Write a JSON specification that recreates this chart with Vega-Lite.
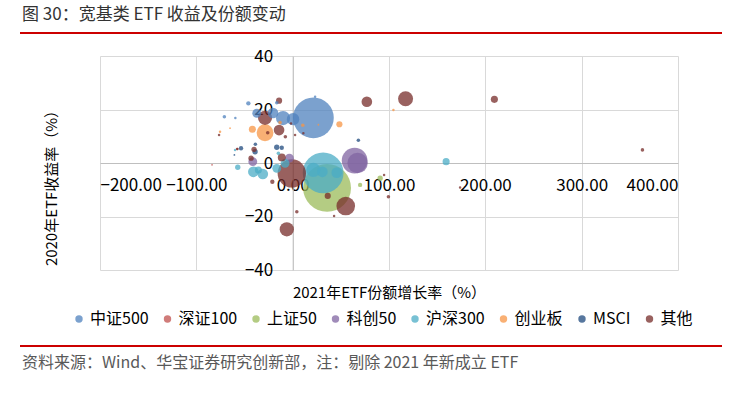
{
  "$schema": "https://vega.github.io/schema/vega-lite/v6.json",
  "width": 578,
  "height": 214,
  "autosize": "none",
  "padding": {"left": 100, "top": 56, "right": 51, "bottom": 125},
  "background": "white",
  "config": {
    "view": {"stroke": null},
    "font": "Noto Sans CJK SC",
    "axis": {"labelFont": "Noto Sans CJK SC", "titleFont": "Noto Sans CJK SC", "labelColor": "#000", "titleColor": "#000"}
  },
  "title": {
    "text": "图 30：宽基类 ETF 收益及份额变动",
    "anchor": "start",
    "frame": "group",
    "orient": "top",
    "dx": -78,
    "offset": 8,
    "fontSize": 17,
    "fontWeight": "normal",
    "font": "Noto Sans CJK SC",
    "color": "#333333"
  },
  "datasets": {
    "etf": [
      {"类型": "中证500", "份额增长率": 21.5, "收益率": 16.9, "规模": 529},
      {"类型": "中证500", "份额增长率": -10.0, "收益率": 16.8, "规模": 64},
      {"类型": "中证500", "份额增长率": 0.4, "收益率": 16.4, "规模": 49},
      {"类型": "中证500", "份额增长率": -20.4, "收益率": 18.7, "规模": 36},
      {"类型": "中证500", "份额增长率": -37.3, "收益率": 18.6, "规模": 25},
      {"类型": "中证500", "份额增长率": -46.0, "收益率": 22.3, "规模": 6},
      {"类型": "中证500", "份额增长率": -70.9, "收益率": 17.3, "规模": 4},
      {"类型": "中证500", "份额增长率": -59.5, "收益率": 16.8, "规模": 2},
      {"类型": "中证500", "份额增长率": 23.3, "收益率": 24.8, "规模": 2},
      {"类型": "中证500", "份额增长率": -16.5, "收益率": 22.5, "规模": 4},
      {"类型": "深证100", "份额增长率": -57.7, "收益率": 5.2, "规模": 2},
      {"类型": "深证100", "份额增长率": -83.7, "收益率": -0.7, "规模": 1},
      {"类型": "上证50", "份额增长率": 35.7, "收益率": -9.3, "规模": 729},
      {"类型": "上证50", "份额增长率": 90.8, "收益率": -5.7, "规模": 9},
      {"类型": "上证50", "份额增长率": 70.0, "收益率": -8.2, "规模": 6},
      {"类型": "科创50", "份额增长率": 64.3, "收益率": 0.9, "规模": 210},
      {"类型": "科创50", "份额增长率": 67.4, "收益率": 0.0, "规模": 132},
      {"类型": "科创50", "份额增长率": -41.4, "收益率": 0.5, "规模": 25},
      {"类型": "科创50", "份额增长率": -3.4, "收益率": 1.8, "规模": 25},
      {"类型": "沪深300", "份额增长率": 31.6, "收益率": -3.7, "规模": 529},
      {"类型": "沪深300", "份额增长率": 159.3, "收益率": 0.5, "规模": 16},
      {"类型": "沪深300", "份额增长率": 21.5, "收益率": -2.6, "规模": 64},
      {"类型": "沪深300", "份额增长率": 30.8, "收益率": -3.3, "规模": 36},
      {"类型": "沪深300", "份额增长率": 45.8, "收益率": -3.6, "规模": 36},
      {"类型": "沪深300", "份额增长率": -40.8, "收益率": -3.3, "规模": 36},
      {"类型": "沪深300", "份额增长率": -31.0, "收益率": -4.1, "规模": 36},
      {"类型": "沪深300", "份额增长率": -16.5, "收益率": -2.0, "规模": 25},
      {"类型": "沪深300", "份额增长率": -7.9, "收益率": -0.1, "规模": 25},
      {"类型": "沪深300", "份额增长率": -35.6, "收益率": -2.6, "规模": 16},
      {"类型": "沪深300", "份额增长率": -57.0, "收益率": -1.6, "规模": 9},
      {"类型": "沪深300", "份额增长率": -59.8, "收益率": 4.9, "规模": 2},
      {"类型": "沪深300", "份额增长率": -14.8, "收益率": 3.6, "规模": 4},
      {"类型": "创业板", "份额增长率": -28.7, "收益率": 11.3, "规模": 90},
      {"类型": "创业板", "份额增长率": -41.8, "收益率": 12.6, "规模": 16},
      {"类型": "创业板", "份额增长率": -75.4, "收益率": 11.7, "规模": 2},
      {"类型": "创业板", "份额增长率": 10.5, "收益率": 14.1, "规模": 4},
      {"类型": "创业板", "份额增长率": 26.7, "收益率": 14.3, "规模": 1},
      {"类型": "创业板", "份额增长率": 48.5, "收益率": 14.5, "规模": 12},
      {"类型": "创业板", "份额增长率": 104.6, "收益率": 19.8, "规模": 2},
      {"类型": "创业板", "份额增长率": -13.1, "收益率": 15.1, "规模": 4},
      {"类型": "创业板", "份额增长率": -65.0, "收益率": 13.0, "规模": 1},
      {"类型": "MSCI", "份额增长率": 68.2, "收益率": 8.5, "规模": 4},
      {"类型": "MSCI", "份额增长率": -53.6, "收益率": 5.5, "规模": 6},
      {"类型": "MSCI", "份额增长率": -39.0, "收益率": 4.2, "规模": 9},
      {"类型": "MSCI", "份额增长率": -16.5, "收益率": 5.9, "规模": 9},
      {"类型": "MSCI", "份额增长率": -11.3, "收益率": 5.7, "规模": 6},
      {"类型": "MSCI", "份额增长率": -38.7, "收益率": 7.0, "规模": 4},
      {"类型": "MSCI", "份额增长率": -60.5, "收益率": 3.0, "规模": 1},
      {"类型": "其他", "份额增长率": -0.9, "收益率": -3.9, "规模": 256},
      {"类型": "其他", "份额增长率": 117.2, "收益率": 24.0, "规模": 72},
      {"类型": "其他", "份额增长率": 77.0, "收益率": 22.9, "规模": 36},
      {"类型": "其他", "份额增长率": 209.4, "收益率": 23.8, "规模": 16},
      {"类型": "其他", "份额增长率": 363.1, "收益率": 4.9, "规模": 4},
      {"类型": "其他", "份额增长率": 173.8, "收益率": -9.2, "规模": 2},
      {"类型": "其他", "份额增长率": 94.9, "收益率": -4.5, "规模": 2},
      {"类型": "其他", "份额增长率": 99.4, "收益率": -12.6, "规模": 4},
      {"类型": "其他", "份额增长率": 55.1, "收益率": -16.1, "规模": 110},
      {"类型": "其他", "份额增长率": 36.4, "收益率": -12.3, "规模": 12},
      {"类型": "其他", "份额增长率": 43.0, "收益率": -19.8, "规模": 2},
      {"类型": "其他", "份额增长率": 4.3, "收益率": -18.2, "规模": 4},
      {"类型": "其他", "份额增长率": -6.1, "收益率": -24.8, "规模": 64},
      {"类型": "其他", "份额增长率": -21.1, "收益率": -7.0, "规模": 6},
      {"类型": "其他", "份额增长率": -11.3, "收益率": 2.1, "规模": 20},
      {"类型": "其他", "份额增长率": -40.1, "收益率": 5.1, "规模": 9},
      {"类型": "其他", "份额增长率": -43.2, "收益率": 1.8, "规模": 9},
      {"类型": "其他", "份额增长率": -14.1, "收益率": 23.3, "规模": 12},
      {"类型": "其他", "份额增长率": -28.7, "收益率": 16.9, "规模": 64},
      {"类型": "其他", "份额增长率": -14.1, "收益率": 12.3, "规模": 36},
      {"类型": "其他", "份额增长率": -1.7, "收益率": 14.8, "规模": 2},
      {"类型": "其他", "份额增长率": 11.1, "收益率": 11.1, "规模": 2},
      {"类型": "其他", "份额增长率": -7.6, "收益率": 9.8, "规模": 4},
      {"类型": "其他", "份额增长率": 2.5, "收益率": 10.5, "规模": 2},
      {"类型": "其他", "份额增长率": -76.4, "收益率": 10.5, "规模": 2},
      {"类型": "其他", "份额增长率": -25.9, "收益率": 11.3, "规模": 4},
      {"类型": "其他", "份额增长率": -57.4, "收益率": 5.2, "规模": 2}
    ],
    "note": [{"text": "资料来源：Wind、华宝证券研究创新部，注：剔除 2021 年新成立 ETF"}]
  },
  "layer": [
    {
      "data": {"name": "etf"},
      "mark": {"type": "circle", "opacity": 0.75, "clip": true},
      "encoding": {
        "x": {
          "field": "份额增长率", "type": "quantitative",
          "scale": {"domain": [-200, 400], "nice": false},
          "axis": {
            "orient": "bottom", "offset": -107,
            "values": [-200, -100, 0, 100, 200, 300, 400],
            "format": ".2f", "labelFontSize": 17, "labelPadding": 14,
            "ticks": false, "domain": true, "domainColor": "#BFBFBF", "domainWidth": 1,
            "grid": true, "gridColor": "#D9D9D9",
            "title": "2021年ETF份额增长率（%）", "titleFontSize": 15, "titleFontWeight": "normal",
            "titleBaseline": "middle", "titleY": 129
          }
        },
        "y": {
          "field": "收益率", "type": "quantitative",
          "scale": {"domain": [-40, 40], "nice": false},
          "axis": {
            "orient": "left", "offset": -192.7,
            "values": [-40, -20, 0, 20, 40],
            "format": "d", "labelFontSize": 17, "labelPadding": 20,
            "ticks": false, "domain": true, "domainColor": "#BFBFBF", "domainWidth": 1,
            "grid": true, "gridColor": "#D9D9D9",
            "title": "2020年ETF收益率（%）", "titleFontSize": 15, "titleFontWeight": "normal",
            "titleX": -241, "titleY": 128, "titleAngle": -90, "titleBaseline": "middle", "titleAlign": "center"
          }
        },
        "size": {
          "field": "规模", "type": "quantitative",
          "scale": {"type": "linear", "zero": true, "domain": [0, 1000], "range": [0, 3141.6]},
          "legend": null
        },
        "color": {
          "field": "类型", "type": "nominal",
          "scale": {
            "domain": ["中证500", "深证100", "上证50", "科创50", "沪深300", "创业板", "MSCI", "其他"],
            "range": ["#4F81BD", "#C0504D", "#9BBB59", "#8064A2", "#4BACC6", "#F79646", "#1F497D", "#772C2A"]
          },
          "legend": {
            "orient": "none", "legendX": -29, "legendY": 255, "direction": "horizontal",
            "title": null, "labelFontSize": 16, "labelFont": "Noto Sans CJK SC", "labelColor": "#000",
            "symbolType": "circle", "symbolSize": 55, "symbolOpacity": 0.75, "symbolStrokeWidth": 0,
            "columnPadding": 10.5, "labelOffset": 3
          }
        },
        "order": {"field": "规模", "type": "quantitative", "sort": "descending"}
      }
    },
    {
      "data": {"values": [{"line": "header"}]},
      "mark": {"type": "rule", "color": "#CC0000", "strokeWidth": 2},
      "encoding": {
        "x": {"value": -80},
        "x2": {"value": 622},
        "y": {"value": -23}
      }
    },
    {
      "data": {"values": [{"line": "footer"}]},
      "mark": {"type": "rule", "color": "#CC0000", "strokeWidth": 2},
      "encoding": {
        "x": {"value": -80},
        "x2": {"value": 622},
        "y": {"value": 290}
      }
    },
    {
      "data": {"name": "note"},
      "mark": {"type": "text", "align": "left", "baseline": "middle", "fontSize": 16, "color": "#595959", "font": "Noto Sans CJK SC"},
      "encoding": {
        "x": {"value": -78},
        "y": {"value": 307},
        "text": {"field": "text", "type": "nominal"}
      }
    }
  ]
}
